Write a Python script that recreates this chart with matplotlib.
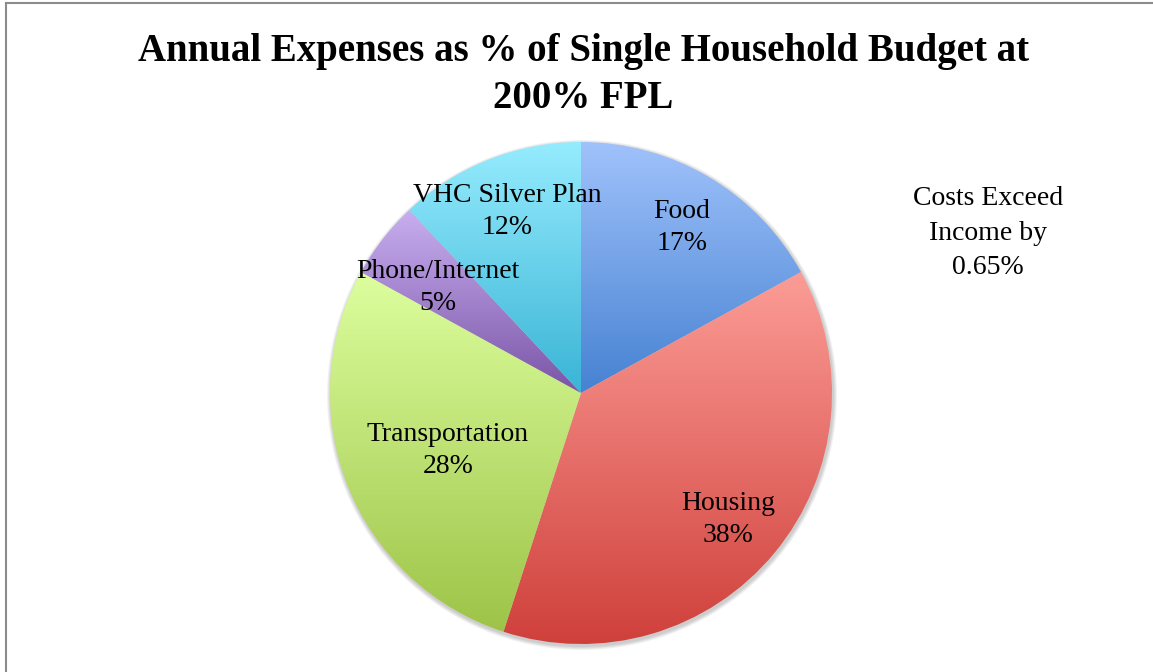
import numpy as np
import matplotlib
matplotlib.use('Agg')
import matplotlib.pyplot as plt
from matplotlib.colors import LinearSegmentedColormap

# data
categories = ['Food', 'Housing', 'Transportation', 'Phone/Internet', 'VHC Silver Plan']
shares = [17, 38, 28, 5, 12]
note_text = 'Costs Exceed\nIncome by\n0.65%'
title_text = 'Annual Expenses as % of Single Household Budget at\n200% FPL'

# gradient colours per slice (top, bottom)
grads = [('#a0c2fb', '#4682d2'),
         ('#fc9c96', '#cf3f3a'),
         ('#ddfe9e', '#9dc448'),
         ('#c8aef0', '#7a55a6'),
         ('#96ecfe', '#3ab4d6')]
# radial position of each label as fraction of radius
label_r = [0.79, 0.76, 0.57, 0.72, 0.80]

W, H = 1153, 672
fig = plt.figure(figsize=(W / 100, H / 100), dpi=100)
ax = fig.add_axes([0, 0, 1, 1])

cx, cy, R = 581, 279, 251
serif = ['Liberation Serif', 'DejaVu Serif']

# soft shadow
for k in range(4):
    sh = plt.Circle((cx + 1, cy - 2), R + 1 + k, color='#000000', alpha=0.05, lw=0, zorder=0)
    ax.add_patch(sh)

wedges, _ = ax.pie(shares, startangle=90, counterclock=False, center=(cx, cy),
                   radius=R, wedgeprops=dict(linewidth=0, facecolor='none'))

for w, (c1, c2) in zip(wedges, grads):
    verts = w.get_patch_transform().transform(w.get_path().vertices)
    x0, x1 = verts[:, 0].min(), verts[:, 0].max()
    y0, y1 = verts[:, 1].min(), verts[:, 1].max()
    cmap = LinearSegmentedColormap.from_list('g', [c2, c1])
    grad = np.linspace(1, 0, 256).reshape(-1, 1)
    im = ax.imshow(grad, cmap=cmap, extent=(x0, x1, y0, y1), aspect='auto',
                   interpolation='bilinear', zorder=1)
    im.set_clip_path(w)

# labels a bit lower than the geometric point (text box centring)
for w, name, val, fr in zip(wedges, categories, shares, label_r):
    mid = np.deg2rad((w.theta1 + w.theta2) / 2)
    tx = cx + fr * R * np.cos(mid)
    ty = cy + fr * R * np.sin(mid) - 5
    ax.text(tx, ty, '%s\n%d%%' % (name, val), ha='center', va='center',
            fontsize=20, family=serif, linespacing=1.36, zorder=3)

ax.text(988, H - 233, note_text, ha='center', va='center', fontsize=20,
        family=serif, linespacing=1.52, zorder=3)

ax.text(583, H - 75, title_text, ha='center', va='center', fontsize=28,
        family=serif, fontweight='bold', linespacing=1.36, zorder=3)

# outer frame
ax.plot([6, 6], [0, H - 3], color='#8c8c8c', lw=1.5, zorder=4)
ax.plot([6, W], [H - 3, H - 3], color='#8c8c8c', lw=1.5, zorder=4)

ax.set_xlim(0, W)
ax.set_ylim(0, H)
ax.set_aspect('equal')
ax.axis('off')

fig.savefig('out.png', dpi=100)
